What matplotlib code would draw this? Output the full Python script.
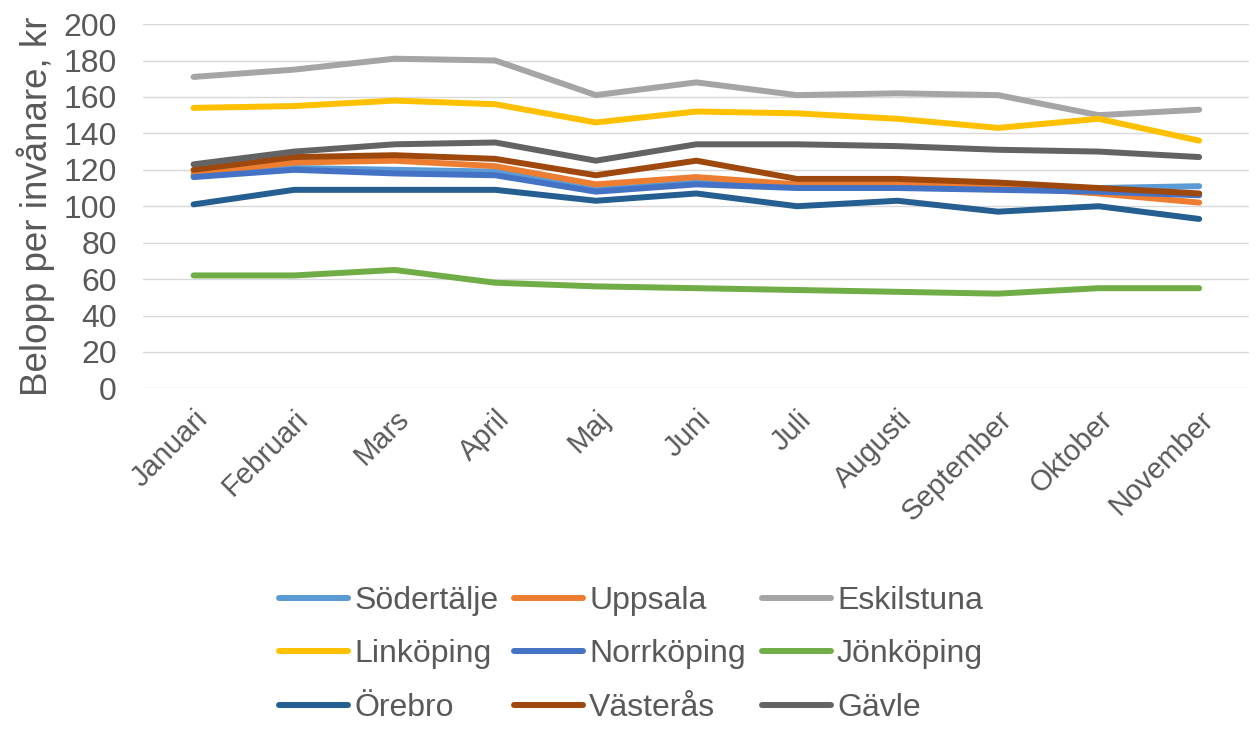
import numpy as np
import matplotlib.pyplot as plt

plt.rcParams['font.family'] = ['Liberation Sans', 'DejaVu Sans']

months = ['Januari', 'Februari', 'Mars', 'April', 'Maj', 'Juni', 'Juli',
          'Augusti', 'September', 'Oktober', 'November']

sodertalje = [117, 121, 120, 119, 109, 113, 111, 111, 110, 110, 111]
uppsala = [118, 124, 125, 122, 112, 116, 112, 112, 111, 107, 102]
eskilstuna = [171, 175, 181, 180, 161, 168, 161, 162, 161, 150, 153]
linkoping = [154, 155, 158, 156, 146, 152, 151, 148, 143, 148, 136]
norrkoping = [116, 120, 118, 117, 108, 112, 110, 110, 109, 108, 106]
jonkoping = [62, 62, 65, 58, 56, 55, 54, 53, 52, 55, 55]
orebro = [101, 109, 109, 109, 103, 107, 100, 103, 97, 100, 93]
vasteras = [120, 127, 128, 126, 117, 125, 115, 115, 113, 110, 107]
gavle = [123, 130, 134, 135, 125, 134, 134, 133, 131, 130, 127]

series = [
    ('Södertälje', sodertalje, '#5B9BD5'),
    ('Uppsala', uppsala, '#ED7D31'),
    ('Eskilstuna', eskilstuna, '#A5A5A5'),
    ('Linköping', linkoping, '#FFC000'),
    ('Norrköping', norrkoping, '#4472C4'),
    ('Jönköping', jonkoping, '#70AD47'),
    ('Örebro', orebro, '#255E91'),
    ('Västerås', vasteras, '#9E480E'),
    ('Gävle', gavle, '#636363'),
]

text_color = '#595959'

fig = plt.figure(figsize=(12.57, 7.3), dpi=100)
ax = fig.add_axes([0.114, 0.468, 0.88, 0.499])

x = np.arange(len(months))
handles = []
for name, vals, col in series:
    h, = ax.plot(x, vals, color=col, lw=4.3, solid_capstyle='round',
                 solid_joinstyle='round', label=name)
    handles.append(h)

ax.set_xlim(-0.5, len(months) - 0.5)
ax.set_ylim(0, 200)
ax.set_yticks(range(0, 201, 20))
ax.set_xticks(x)
ax.set_xticklabels(months, rotation=45, ha='right', rotation_mode='anchor',
                   fontsize=21, color=text_color)
ax.tick_params(axis='y', labelsize=23, labelcolor=text_color, length=0, pad=19)
ax.tick_params(axis='x', length=0, pad=12)
ax.grid(axis='y', color='#D9D9D9', lw=1)
ax.set_axisbelow(True)
for s in ax.spines.values():
    s.set_visible(False)
ax.set_ylabel('Belopp per invånare, kr', fontsize=26.5, color=text_color, labelpad=6)

# legend is filled column by column, so reorder to read row by row
order = [0, 3, 6, 1, 4, 7, 2, 5, 8]
leg = fig.legend([handles[i] for i in order], [series[i][0] for i in order],
                 ncol=3, loc='upper center', bbox_to_anchor=(0.502, 0.215),
                 frameon=False, fontsize=23, handlelength=2.15,
                 handletextpad=0.2, columnspacing=0.5, labelspacing=0.74,
                 borderaxespad=0)
for t in leg.get_texts():
    t.set_color(text_color)

fig.savefig('out.png', dpi=100)
